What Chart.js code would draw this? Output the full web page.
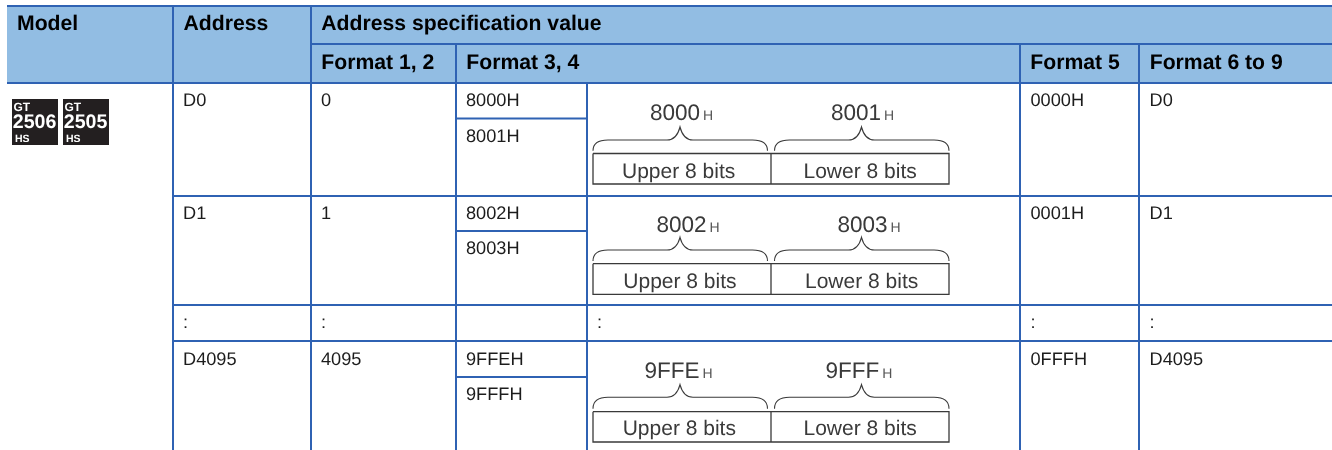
<!DOCTYPE html>
<html><head><meta charset="utf-8">
<style>html,body{margin:0;padding:0;background:#fff}canvas{display:block}</style>
<script src="https://cdn.jsdelivr.net/npm/chart.js@4"></script>
</head><body><canvas id="c" width="1332" height="450"></canvas>
<script>
// ---------- table content ----------
const headerTop = ["Model", "Address", "Address specification value"];
const headerSub = ["Format 1, 2", "Format 3, 4", "Format 5", "Format 6 to 9"];
const models = ["2506", "2505"];
const addresses = ["D0", "D1", ":", "D4095"];
const format12 = ["0", "1", ":", "4095"];
const format34Upper = ["8000H", "8002H", "", "9FFEH"];
const format34Lower = ["8001H", "8003H", "", "9FFFH"];
const upperWords = ["8000", "8002", "9FFE"];
const lowerWords = ["8001", "8003", "9FFF"];
const format34Note = ["", "", ":", ""];
const format5 = ["0000H", "0001H", ":", "0FFFH"];
const format69 = ["D0", "D1", ":", "D4095"];
const bitLabels = ["Upper 8 bits", "Lower 8 bits"];

// ---------- layout, in page units on the two linear scales ----------
const L = {
  left: 7, right: 1332, top: 6, bottom: 450, subLine: 44, headLine: 83,
  cols: [173, 311, 456, 587, 1020, 1139],
  rowLines: [196, 305, 341],
  splitLines: [118.5, 231, 377],
  rowBase: [106, 219, 328, 365],
  lowerBase: [142, 254, null, 400],
  diag: [
    {apex:127, shoulder:140, foot:150.7, boxT:153.5, boxB:184, wordBase:119.5, labelBase:177.7, u:650,  l:831,  ul:622, ll:803.5},
    {apex:237.3, shoulder:250, foot:261, boxT:263.7, boxB:294.3, wordBase:231.7, labelBase:287.5, u:656.5, l:837.5, ul:623.3, ll:805},
    {apex:384.7, shoulder:397.3, foot:408.7, boxT:411.7, boxB:442, wordBase:378, labelBase:435, u:644.5, l:825.5, ul:622.7, ll:803.5}
  ],
  boxX: [593, 771, 949],
  brace1: [593, 767.5, 680],
  brace2: [774.5, 949, 861.5],
  badgeX: [12, 63], badgeW: 46, badgeT: 99, badgeB: 145
};
const FILL = "#92bde3", RULE = "#2f62b3", INK = "#1c1c1c", DIAG = "#3a3a3a";

// ---------- datasets (earlier datasets paint on top of later ones) ----------
const ds = [];
function band(x0, x1, y0, y1, color) {
  ds.push({data:[{x:x0,y:y0},{x:x1,y:y0}], fill:"+1", backgroundColor:color, borderWidth:0, pointRadius:0, showLine:true});
  ds.push({data:[{x:x0,y:y1},{x:x1,y:y1}], fill:false, borderWidth:0, pointRadius:0, showLine:true});
}
function seg(pts, color, w) {
  ds.push({data:pts.map(p=>({x:p[0],y:p[1]})), borderColor:color, borderWidth:w, pointRadius:0, showLine:true, fill:false, borderCapStyle:"butt"});
}
seg([[L.left,L.top],[L.right,L.top]], RULE, 2);
seg([[L.cols[1],L.subLine],[L.right,L.subLine]], RULE, 2);
seg([[L.left,L.headLine],[L.right,L.headLine]], RULE, 2);
L.rowLines.forEach(y => seg([[L.cols[0],y],[L.right,y]], RULE, 2));
L.splitLines.forEach(y => seg([[L.cols[2],y],[L.cols[3],y]], RULE, 2));
seg([[L.cols[0],L.top],[L.cols[0],L.bottom]], RULE, 2);
seg([[L.cols[1],L.top],[L.cols[1],L.bottom]], RULE, 2);
seg([[L.cols[2],L.subLine],[L.cols[2],L.bottom]], RULE, 2);
seg([[L.cols[3],L.headLine],[L.cols[3],L.bottom]], RULE, 2);
seg([[L.cols[4],L.subLine],[L.cols[4],L.bottom]], RULE, 2);
seg([[L.cols[5],L.subLine],[L.cols[5],L.bottom]], RULE, 2);
L.diag.forEach(d => {
  seg([[L.boxX[0],d.boxT],[L.boxX[2],d.boxT],[L.boxX[2],d.boxB],[L.boxX[0],d.boxB],[L.boxX[0],d.boxT]], DIAG, 1.3);
  seg([[L.boxX[1],d.boxT],[L.boxX[1],d.boxB]], DIAG, 1.3);
});
band(L.left, L.right, L.top, L.headLine, FILL);
L.badgeX.forEach(x => band(x, x + L.badgeW, L.badgeT, L.badgeB, "#231f20"));

// ---------- text and braces, placed through the chart's scales ----------
const tablePlugin = {
  id: "tableText",
  afterDatasetsDraw(chart) {
    const c = chart.ctx, X = chart.scales.x, Y = chart.scales.y;
    const px = v => X.getPixelForValue(v), py = v => Y.getPixelForValue(v);
    const t = (s, x, y, font, col) => { if (!s) return; c.font = font; c.fillStyle = col; c.fillText(s, px(x), py(y)); };
    c.save();
    c.textBaseline = "alphabetic"; c.textAlign = "left";
    c.textRendering = "geometricPrecision";
    const HB = "bold 21.2px 'Liberation Sans'", BD = "18.2px 'Liberation Sans'";
    t(headerTop[0], 17, 30, HB, "#000");
    t(headerTop[1], 183.5, 30, HB, "#000");
    t(headerTop[2], 321.3, 30, HB, "#000");
    t(headerSub[0], 321.3, 69, HB, "#000");
    t(headerSub[1], 466.3, 69, HB, "#000");
    t(headerSub[2], 1030.3, 69, HB, "#000");
    t(headerSub[3], 1149.7, 69, HB, "#000");
    L.rowBase.forEach((b, i) => {
      t(addresses[i], 183, b, BD, INK);
      t(format12[i], 321, b, BD, INK);
      t(format34Upper[i], 466, b, BD, INK);
      t(format34Lower[i], 466, L.lowerBase[i], BD, INK);
      t(format34Note[i], 597, b, BD, INK);
      t(format5[i], 1030.5, b, BD, INK);
      t(format69[i], 1149.5, b, BD, INK);
    });
    const brace = (b, d) => {
      const [x0, x1, a] = b;
      c.beginPath();
      c.moveTo(px(x0), py(d.foot));
      c.bezierCurveTo(px(x0), py(d.shoulder+4), px(x0+5), py(d.shoulder), px(x0+15), py(d.shoulder));
      c.lineTo(px(a-13), py(d.shoulder));
      c.bezierCurveTo(px(a-6), py(d.shoulder), px(a-2), py(d.shoulder-5), px(a), py(d.apex));
      c.bezierCurveTo(px(a+2), py(d.shoulder-5), px(a+6), py(d.shoulder), px(a+13), py(d.shoulder));
      c.lineTo(px(x1-15), py(d.shoulder));
      c.bezierCurveTo(px(x1-5), py(d.shoulder), px(x1), py(d.shoulder+4), px(x1), py(d.foot));
      c.strokeStyle = DIAG; c.lineWidth = 1.1; c.stroke();
    };
    const WF = "22.5px 'Liberation Sans'", SF = "14px 'Liberation Sans'", LF = "21px 'Liberation Sans'";
    L.diag.forEach((d, i) => {
      brace(L.brace1, d); brace(L.brace2, d);
      [[upperWords[i], d.u], [lowerWords[i], d.l]].forEach(([w, x]) => {
        t(w, x, d.wordBase, WF, DIAG);
        c.font = WF; const wd = c.measureText(w).width;
        t("H", x + wd + 3, d.wordBase, SF, "#555");
      });
      t(bitLabels[0], d.ul, d.labelBase, LF, DIAG);
      t(bitLabels[1], d.ll, d.labelBase, LF, DIAG);
    });
    L.badgeX.forEach((x, i) => {
      t("GT", x + 1.5, 110.7, "bold 12px 'Liberation Sans'", "#fff");
      t(models[i], x + 0.8, 128.3, "bold 19.6px 'Liberation Sans'", "#fff");
      t("HS", x + 3, 141.7, "bold 10.5px 'Liberation Sans'", "#fff");
    });
    c.restore();
  }
};

new Chart(document.getElementById("c"), {
  type: "scatter",
  data: { datasets: ds },
  plugins: [tablePlugin],
  options: {
    responsive: false, animation: false,
    layout: { padding: 0 },
    plugins: { legend: {display:false}, tooltip: {enabled:false}, title:{display:false} },
    events: [],
    scales: {
      x: { type:"linear", min:0, max:1332, display:false },
      y: { type:"linear", min:0, max:450, reverse:true, display:false }
    }
  }
});
</script></body></html>
